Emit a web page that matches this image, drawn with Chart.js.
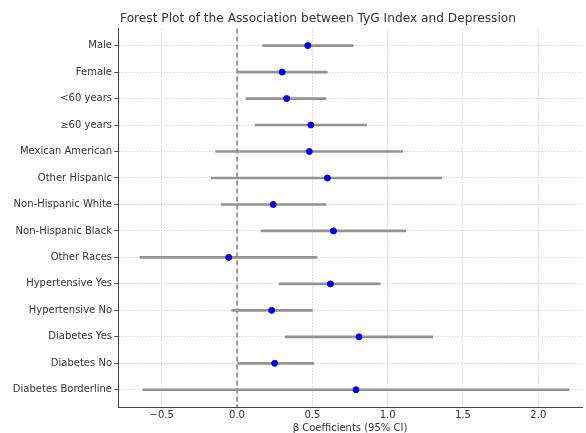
<!DOCTYPE html>
<html>
<head>
<meta charset="utf-8">
<script src="https://cdn.jsdelivr.net/npm/chart.js@4/dist/chart.umd.min.js"></script>
<style>
  html, body { margin: 0; padding: 0; background: #fff; }
  #wrap { width: 586px; height: 433px; position: relative; }
</style>
</head>
<body>
<div id="wrap"><canvas id="c"></canvas></div>
<script>
const categories = [
  "Male", "Female", "<60 years", "\u226560 years", "Mexican American",
  "Other Hispanic", "Non-Hispanic White", "Non-Hispanic Black", "Other Races",
  "Hypertensive Yes", "Hypertensive No", "Diabetes Yes", "Diabetes No",
  "Diabetes Borderline"
];
const beta  = [0.47, 0.30, 0.33, 0.49, 0.48, 0.60, 0.24, 0.64, -0.055, 0.62, 0.23, 0.81, 0.25, 0.79];
const ciLow = [0.17, 0.00, 0.06, 0.12, -0.14, -0.17, -0.105, 0.16, -0.645, 0.28, -0.035, 0.32, 0.005, -0.625];
const ciHigh = [0.77, 0.60, 0.59, 0.86, 1.10, 1.36, 0.59, 1.12, 0.53, 0.95, 0.50, 1.30, 0.51, 2.205];
const xTicks = [-0.5, 0.0, 0.5, 1.0, 1.5, 2.0];
const titleText = "Forest Plot of the Association between TyG Index and Depression";
const xTitle = "\u03b2 Coefficients (95% CI)";

const FONT = "'DejaVu Sans', sans-serif";
const yMin = -0.65, yMax = categories.length - 1 + 0.65;

const titlePlugin = {
  id: 'customTitle',
  afterDraw(chart) {
    const ctx = chart.ctx;
    ctx.save();
    ctx.font = "12.2px " + FONT;
    ctx.fillStyle = "#333";
    ctx.textAlign = "center";
    ctx.textBaseline = "middle";
    ctx.fillText(titleText, 318, 19);
    ctx.restore();
  }
};

new Chart(document.getElementById('c'), {
  type: 'bar',
  data: {
    datasets: [
      {
        type: 'scatter',
        data: beta.map((b, i) => ({ x: b, y: i })),
        backgroundColor: '#0000e6',
        borderColor: '#0000e6',
        pointRadius: 3,
        pointHoverRadius: 3,
        order: 0
      },
      {
        type: 'bar',
        indexAxis: 'y',
        data: categories.map((c, i) => ({ y: i, x: [ciLow[i], ciHigh[i]] })),
        backgroundColor: '#939393',
        borderWidth: 0,
        barThickness: 2,
        order: 1
      },
      {
        type: 'line',
        data: [{ x: 0, y: yMin }, { x: 0, y: yMax }],
        borderColor: '#6e6e6e',
        borderWidth: 1.3,
        borderDash: [5, 3],
        pointRadius: 0,
        fill: false,
        order: 2
      }
    ]
  },
  options: {
    responsive: true,
    maintainAspectRatio: false,
    animation: false,
    layout: { padding: { top: 28.4, left: 0, right: 0, bottom: 0 } },
    plugins: { legend: { display: false }, tooltip: { enabled: false }, title: { display: false } },
    scales: {
      x: {
        type: 'linear',
        offset: false,
        min: -0.79, max: 2.29,
        afterBuildTicks: (s) => { s.ticks = xTicks.map(v => ({ value: v })); },
        afterFit: (s) => { s.height = 26; },
        ticks: {
          font: { family: FONT, size: 10 },
          color: '#333',
          padding: 2,
          maxRotation: 0,
          callback: (v) => v.toFixed(1).replace('-', '\u2212')
        },
        grid: { offset: false, color: '#dadada', lineWidth: 1, drawTicks: false },
        border: { color: '#444', width: 1, dash: [1.5, 1.5] },
        title: {
          display: true, text: xTitle,
          font: { family: FONT, size: 10, lineHeight: 1 },
          color: '#333',
          padding: { top: 0, bottom: 0 }
        }
      },
      y: {
        type: 'linear',
        offset: false,
        min: yMin, max: yMax,
        reverse: true,
        afterBuildTicks: (s) => { s.ticks = categories.map((c, i) => ({ value: i })); },
        afterFit: (s) => { s.width = 118; },
        ticks: {
          font: { family: FONT, size: 10 },
          color: '#333',
          padding: 2.5,
          autoSkip: false,
          callback: (v) => categories[v]
        },
        grid: { offset: false, color: '#dadada', lineWidth: 1, drawTicks: true, tickLength: 3.5, tickColor: '#444', tickBorderDash: [] },
        border: { color: '#444', width: 1, dash: [1.5, 1.5] }
      }
    }
  },
  plugins: [titlePlugin]
});
</script>
</body>
</html>
